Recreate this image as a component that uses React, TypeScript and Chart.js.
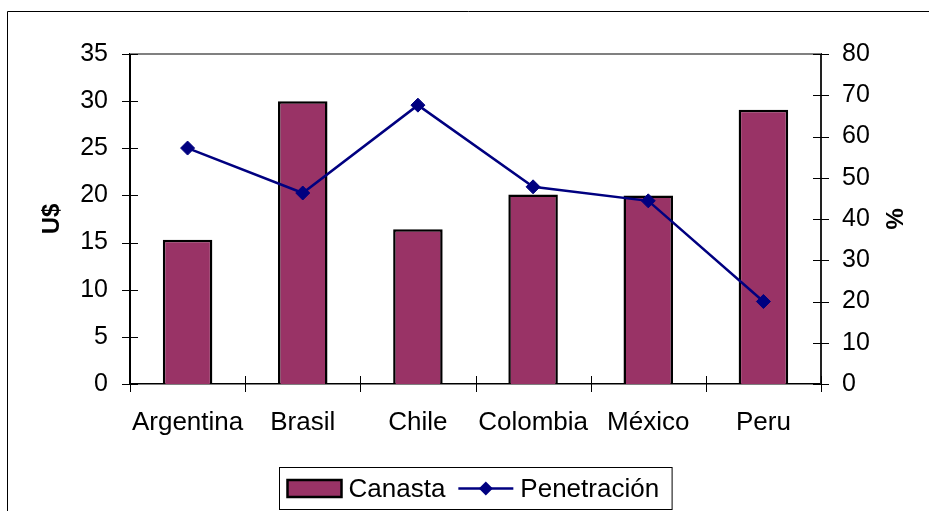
import { useEffect, useRef } from "react";
import { Chart, registerables } from "chart.js";

Chart.register(...registerables);

const categories = ["Argentina", "Brasil", "Chile", "Colombia", "México", "Peru"];
const canastaValues = [15.3, 30.0, 16.4, 20.1, 20.0, 29.1];
const penetracionValues = [57.2, 46.3, 67.6, 47.8, 44.4, 20.0];
const leftAxisMin = 0;
const leftAxisMax = 35;
const leftAxisStep = 5;
const rightAxisMin = 0;
const rightAxisMax = 80;
const rightAxisStep = 10;
const leftAxisTitle = "U$";
const rightAxisTitle = "%";
const seriesLabels = ["Canasta", "Penetración"];

const FONT = '"Liberation Sans", Arial, sans-serif';
const TICK_SIZE = 25;
const XTICK_SIZE = 26;
const LEGEND_SIZE = 26;

const framePlugin = {
  id: "frame",
  afterDraw(chart: any) {
    const ctx: CanvasRenderingContext2D = chart.ctx;
    const { left, right, top, bottom } = chart.chartArea;
    const xs = chart.scales.x;
    const ys = chart.scales.y;
    const y1s = chart.scales.y1;
    ctx.save();
    // outer frame
    ctx.strokeStyle = "#000";
    ctx.lineWidth = 1;
    ctx.beginPath();
    ctx.moveTo(7.5, chart.height + 2);
    ctx.lineTo(7.5, 11.5);
    ctx.lineTo(chart.width + 2, 11.5);
    ctx.stroke();
    // top gray line of plot area
    ctx.strokeStyle = "#808080";
    ctx.lineWidth = 2;
    ctx.beginPath();
    ctx.moveTo(left, top);
    ctx.lineTo(right, top);
    ctx.stroke();
    // tick marks crossing axes
    ctx.strokeStyle = "#000";
    ctx.lineWidth = 1;
    ctx.beginPath();
    ys.ticks.forEach((_t: any, i: number) => {
      const py = Math.round(ys.getPixelForTick(i)) + 0.5;
      ctx.moveTo(left - 8, py);
      ctx.lineTo(left + 8, py);
    });
    y1s.ticks.forEach((_t: any, i: number) => {
      const py = Math.round(y1s.getPixelForTick(i)) + 0.5;
      ctx.moveTo(right - 8, py);
      ctx.lineTo(right + 8, py);
    });
    for (let i = 0; i <= categories.length; i++) {
      const px = Math.round(xs.getPixelForValue(i - 0.5)) + 0.5;
      ctx.moveTo(px, bottom - 8);
      ctx.lineTo(px, bottom + 8);
    }
    ctx.stroke();
    ctx.restore();
  },
};

const legendPlugin = {
  id: "customLegend",
  afterDraw(chart: any) {
    const ctx: CanvasRenderingContext2D = chart.ctx;
    const ds = chart.data.datasets;
    const barDs = ds.find((d: any) => d.type === "bar");
    const lineDs = ds.find((d: any) => d.type === "line");
    ctx.save();
    ctx.font = `${LEGEND_SIZE}px ${FONT}`;
    const swW = 54, swH = 17, lineW = 55, gapIcon = 7, gapItem = 13, padL = 8, padR = 13;
    const w1 = ctx.measureText(barDs.label).width;
    const w2 = ctx.measureText(lineDs.label).width;
    const total = padL + swW + gapIcon + w1 + gapItem + lineW + gapIcon + w2 + padR;
    const cx = (chart.chartArea.left + chart.chartArea.right) / 2;
    const bx = Math.round(cx - total / 2) + 0.5;
    const by = 467.5;
    const bh = 42;
    const cy = by + bh / 2;
    ctx.fillStyle = "#fff";
    ctx.fillRect(bx, by, total, bh);
    ctx.strokeStyle = "#000";
    ctx.lineWidth = 1;
    ctx.strokeRect(bx, by, total, bh);
    let x = bx + padL;
    // bar swatch
    ctx.fillStyle = barDs.backgroundColor;
    ctx.fillRect(x, cy - swH / 2, swW, swH);
    ctx.lineWidth = 2.5;
    ctx.strokeStyle = "#000";
    ctx.strokeRect(x, cy - swH / 2, swW, swH);
    x += swW + gapIcon;
    ctx.fillStyle = "#000";
    ctx.textBaseline = "middle";
    ctx.textAlign = "left";
    ctx.fillText(barDs.label, x, cy + 1);
    x += w1 + gapItem;
    // line swatch
    ctx.strokeStyle = lineDs.borderColor;
    ctx.lineWidth = 2.5;
    ctx.beginPath();
    ctx.moveTo(x, cy);
    ctx.lineTo(x + lineW, cy);
    ctx.stroke();
    const mx = x + lineW / 2;
    const r = 7;
    ctx.fillStyle = lineDs.pointBackgroundColor;
    ctx.beginPath();
    ctx.moveTo(mx - r, cy);
    ctx.lineTo(mx, cy - r);
    ctx.lineTo(mx + r, cy);
    ctx.lineTo(mx, cy + r);
    ctx.closePath();
    ctx.fill();
    x += lineW + gapIcon;
    ctx.fillStyle = "#000";
    ctx.fillText(lineDs.label, x, cy + 1);
    ctx.restore();
  },
};

export default function App() {
  const ref = useRef<HTMLCanvasElement>(null);

  useEffect(() => {
    const canvas = ref.current;
    if (!canvas) return;
    const chart = new Chart(canvas, {
      type: "bar",
      data: {
        labels: categories,
        datasets: [
          {
            type: "line",
            label: seriesLabels[1],
            data: penetracionValues,
            yAxisID: "y1",
            borderColor: "#000080",
            backgroundColor: "#000080",
            borderWidth: 2.5,
            pointStyle: "rectRot",
            pointRadius: 7,
            pointBackgroundColor: "#000080",
            pointBorderColor: "#000080",
            pointBorderWidth: 1,
            tension: 0,
            order: 0,
          } as any,
          {
            type: "bar",
            label: seriesLabels[0],
            data: canastaValues,
            yAxisID: "y",
            backgroundColor: "#993366",
            borderColor: "#000",
            borderWidth: 2.5,
            barPercentage: 0.43,
            categoryPercentage: 1,
            order: 1,
          } as any,
        ],
      },
      options: {
        responsive: false,
        animation: false,
        layout: { padding: { top: 54, left: 0, right: 0, bottom: 0 } },
        plugins: {
          legend: { display: false },
          tooltip: { enabled: false },
          title: { display: false },
        },
        scales: {
          x: {
            type: "category",
            offset: true,
            grid: { display: false, drawTicks: false },
            border: { display: true, color: "#000", width: 1.5 },
            ticks: {
              color: "#000",
              font: { family: FONT, size: XTICK_SIZE },
              padding: 23,
              maxRotation: 0,
              autoSkip: false,
            },
            afterFit: (s: any) => {
              s.height = 127;
            },
          },
          y: {
            type: "linear",
            position: "left",
            min: leftAxisMin,
            max: leftAxisMax,
            grid: { display: false, drawTicks: false },
            border: { display: true, color: "#000", width: 2 },
            ticks: {
              stepSize: leftAxisStep,
              color: "#000",
              font: { family: FONT, size: TICK_SIZE },
              padding: 22,
            },
            title: {
              display: true,
              text: leftAxisTitle,
              color: "#000",
              font: { family: FONT, size: 24, weight: "bold" },
              padding: { top: 38, bottom: 0 },
            },
            afterFit: (s: any) => {
              s.width = 130;
            },
          },
          y1: {
            type: "linear",
            position: "right",
            min: rightAxisMin,
            max: rightAxisMax,
            grid: { display: false, drawTicks: false },
            border: { display: true, color: "#222", width: 2 },
            ticks: {
              stepSize: rightAxisStep,
              color: "#000",
              font: { family: FONT, size: TICK_SIZE },
              padding: 21,
            },
            title: {
              display: true,
              text: rightAxisTitle,
              color: "#000",
              font: { family: FONT, size: 24, weight: "bold" },
              padding: { top: 22, bottom: 0 },
            },
            afterFit: (s: any) => {
              s.width = 108;
            },
          },
        },
      },
      plugins: [framePlugin, legendPlugin],
    });
    return () => chart.destroy();
  }, []);

  return (
    <div
      style={{
        position: "fixed",
        left: 0,
        top: 0,
        width: 929,
        height: 511,
        overflow: "hidden",
        background: "#fff",
      }}
    >
      <canvas ref={ref} width={929} height={511} style={{ display: "block", width: 929, height: 511 }} />
    </div>
  );
}
